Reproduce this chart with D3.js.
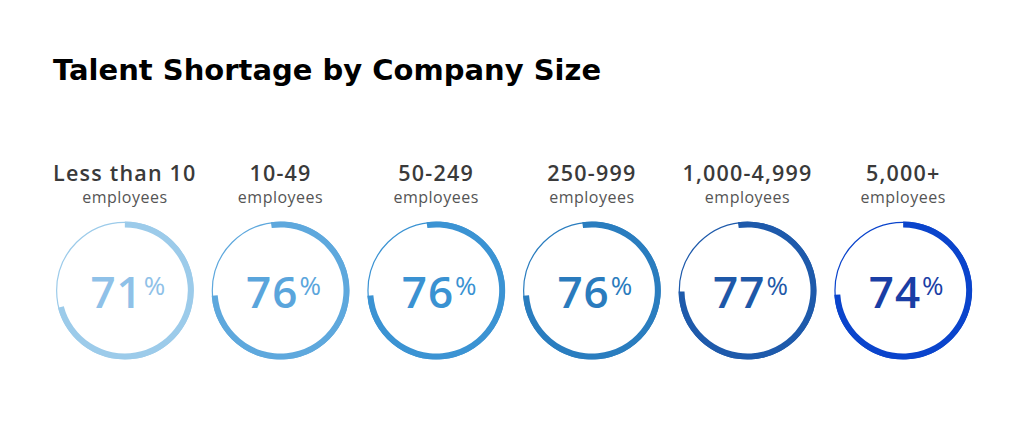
<!DOCTYPE html>
<html>
<head>
<meta charset="utf-8">
<script src="https://cdn.jsdelivr.net/npm/d3@7"></script>
<style>
    body { margin: 0; background: #fff; }
    svg { display: block; }
</style>
</head>
<body>
<div id="chart"></div>
<script>
// Chart values
var sizeLabels = ['Less than 10', '10-49', '50-249', '250-999', '1,000-4,999', '5,000+'];
var subLabels = ['employees', 'employees', 'employees', 'employees', 'employees', 'employees'];
var shortagePct = [71, 76, 76, 76, 77, 74];

// Ring colours, light to dark
var ringColors = ['#9ccbea', '#5ea8dd', '#3b93d3', '#2a7dbf', '#1e5aab', '#0a44cc'];
var numberColors = ['#8fc1e8', '#5aa5dc', '#3a92d2', '#2a7bbd', '#1e58a8', '#1a3ea5'];
// Where each thick arc begins, in degrees from 12 o'clock
var arcStart = [0, -8, -8, -8, -8, 0];

var width = 1024,
    height = 434;

var svg = d3.select('#chart')
    .append('svg')
    .attr('width', width)
    .attr('height', height);

// Title
svg.append('text')
    .text('Talent Shortage by Company Size')
    .attr('x', 53)
    .attr('y', 80)
    .attr('font-family', '"DejaVu Sans", sans-serif')
    .attr('font-weight', 700)
    .attr('font-size', '29px')
    .attr('fill', '#000');

// One band per company size
var xScale = d3.scaleBand()
    .domain(sizeLabels)
    .range([47, 981]);

// Value scale: percent to angle
var angle = d3.scaleLinear()
    .domain([0, 100])
    .range([0, 2 * Math.PI]);

var cy = 290.5,
    outerR = 69,
    innerR = 63;

var data = sizeLabels.map(function(d, i) {
    return { label: d, sub: subLabels[i], value: shortagePct[i], i: i };
});

var groups = svg.selectAll('g.size')
    .data(data)
    .enter()
    .append('g')
    .classed('size', true)
    .attr('transform', function(d) {
        return 'translate(' + (xScale(d.label) + xScale.bandwidth() / 2) + ',0)';
    });

// Category label
groups.append('text')
    .text(function(d) { return d.label; })
    .attr('y', 181)
    .attr('text-anchor', 'middle')
    .attr('font-family', '"Open Sans", sans-serif')
    .attr('font-weight', 600)
    .attr('font-size', '21.5px')
    .attr('letter-spacing', '1.2px')
    .attr('fill', '#3a3a3a');

groups.append('text')
    .text(function(d) { return d.sub; })
    .attr('y', 203)
    .attr('text-anchor', 'middle')
    .attr('font-family', '"Open Sans", sans-serif')
    .attr('font-size', '16px')
    .attr('letter-spacing', '0.5px')
    .attr('fill', '#555');

// Thin full circle
groups.append('circle')
    .attr('cx', 0)
    .attr('cy', cy)
    .attr('r', outerR - 0.8)
    .attr('fill', 'none')
    .attr('stroke', function(d) { return ringColors[d.i]; })
    .attr('stroke-width', 1.2);

// Thick arc for the value
var arc = d3.arc()
    .innerRadius(innerR)
    .outerRadius(outerR);

groups.append('path')
    .attr('transform', 'translate(0,' + cy + ')')
    .attr('fill', function(d) { return ringColors[d.i]; })
    .attr('d', function(d) {
        var s = arcStart[d.i] * Math.PI / 180;
        return arc({ startAngle: s, endAngle: s + angle(d.value) });
    });

// Percent value in the centre
var valueText = groups.append('text')
    .attr('x', 3)
    .attr('y', cy + 17)
    .attr('text-anchor', 'middle')
    .attr('font-family', '"Open Sans", sans-serif')
    .attr('fill', function(d) { return numberColors[d.i]; });

valueText.append('tspan')
    .text(function(d) { return d.value; })
    .attr('font-weight', 600)
    .attr('font-size', '44px')
    .attr('letter-spacing', '1px');

valueText.append('tspan')
    .text('%')
    .attr('dx', 1)
    .attr('dy', -13)
    .attr('font-weight', 400)
    .attr('font-size', '26px');
</script>
</body>
</html>
